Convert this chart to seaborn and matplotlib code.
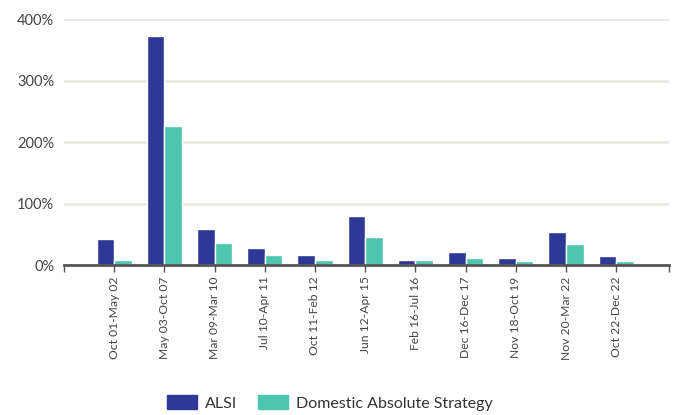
import pandas as pd
import matplotlib
matplotlib.use("Agg")
import matplotlib.pyplot as plt
import seaborn as sns
from matplotlib.ticker import PercentFormatter

periods = ["Oct 01-May 02", "May 03-Oct 07", "Mar 09-Mar 10", "Jul 10-Apr 11",
           "Oct 11-Feb 12", "Jun 12-Apr 15", "Feb 16-Jul 16", "Dec 16-Dec 17",
           "Nov 18-Oct 19", "Nov 20-Mar 22", "Oct 22-Dec 22"]
alsi = [42, 373, 59, 28, 16, 80, 9, 22, 11, 54, 15]
domestic = [8, 227, 36, 17, 8, 46, 9, 11, 7, 34, 7]
series = ["ALSI", "Domestic Absolute Strategy"]
colors = ["#2d3995", "#4cc5b1"]

df = pd.DataFrame({"period": periods * 2,
                   "value": alsi + domestic,
                   "series": [series[0]] * len(periods) + [series[1]] * len(periods)})

sns.set_style("white")
plt.rcParams["font.family"] = ["Lato", "DejaVu Sans"]

fig = plt.figure(figsize=(6.73, 4.15), dpi=100)
ax = fig.add_axes([0.095, 0.361, 0.899, 0.593])

sns.barplot(data=df, x="period", y="value", hue="series", palette=colors,
            width=0.7, saturation=1, ax=ax, legend=False)

ax.set_ylim(0, 400)
ax.set_xlim(-1, 11.05)
ax.set_yticks([0, 100, 200, 300, 400])
ax.yaxis.set_major_formatter(PercentFormatter(decimals=0))
ax.grid(axis="y", color="#ebe8e3", linewidth=2)
ax.set_axisbelow(True)
for s in ["top", "right", "left"]:
    ax.spines[s].set_visible(False)
ax.spines["bottom"].set_color("#555555")
ax.spines["bottom"].set_linewidth(2)
ax.set_xlabel("")
ax.set_ylabel("")
ax.tick_params(axis="x", rotation=90, labelsize=8.7, labelcolor="#444444",
               length=5, width=1, color="#555555", bottom=True, pad=3)
ax.tick_params(axis="y", labelsize=10.5, labelcolor="#444444", length=0, pad=7)
ax.set_xticks(range(len(periods)))
ax.set_xticks([-1, 11.05], minor=True)
ax.tick_params(axis="x", which="minor", length=5, width=1, color="#555555", bottom=True)

handles = [plt.Rectangle((0, 0), 1, 1, color=c) for c in colors]
fig.legend(handles, series, loc="center", bbox_to_anchor=(0.49, 0.029), ncol=2,
           frameon=False, fontsize=11.5, handlelength=1.9, handleheight=1.0,
           columnspacing=1.3, handletextpad=0.5, labelcolor="#333333")

fig.savefig("out.png", dpi=100)
